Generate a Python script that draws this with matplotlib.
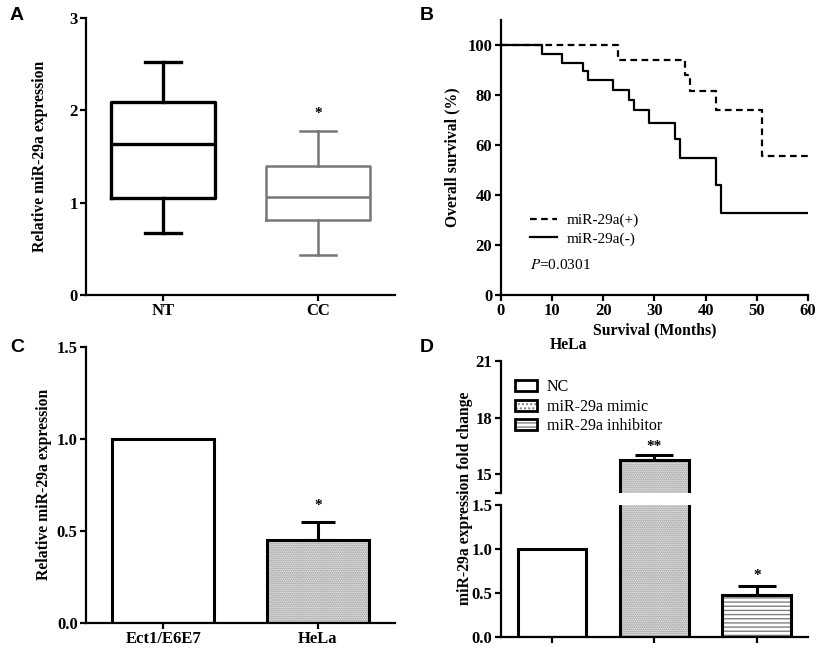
import matplotlib
matplotlib.use("Agg")
import matplotlib.pyplot as plt
from matplotlib.patches import Patch
from matplotlib.legend_handler import HandlerTuple

plt.rcParams['font.family'] = 'Liberation Serif'
plt.rcParams['mathtext.fontset'] = 'stix'

# panel A - box stats
box_names = ["NT", "CC"]
box_whislo = [0.67, 0.43]
box_q1 = [1.05, 0.81]
box_med = [1.63, 1.06]
box_q3 = [2.09, 1.40]
box_whishi = [2.52, 1.78]

# panel B - survival steps
t_pos = [0, 23, 36, 37, 42, 51, 60]
s_pos = [100, 94, 88, 81.5, 74, 55.5, 55.5]
t_neg = [0, 8, 12, 16, 17, 22, 25, 26, 29, 34, 35, 42, 43, 60]
s_neg = [100, 96.5, 93, 89.5, 86, 82, 78, 74, 69, 62.5, 55, 44, 33, 33]

# panel C
c_names = ["Ect1/E6E7", "HeLa"]
c_vals = [1.0, 0.45]
c_err = [0, 0.10]

# panel D
d_names = ["NC", "miR-29a mimic", "miR-29a inhibitor"]
d_vals = [1.0, 15.75, 0.48]
d_err = [0, 0.30, 0.10]

W, H = 819, 648
fig = plt.figure(figsize=(W / 100, H / 100), dpi=100)
TICK = 12
LAB = 11.3
HATCH_C = '#808080'


def px(l, t, r, b):
    return [l / W, 1 - b / H, (r - l) / W, (b - t) / H]


def style(ax):
    for s in ['top', 'right']:
        ax.spines[s].set_visible(False)
    for s in ['left', 'bottom']:
        ax.spines[s].set_linewidth(1.6)
    ax.tick_params(direction='out', width=1.6, length=4, labelsize=TICK, pad=2)
    for lab in ax.get_xticklabels() + ax.get_yticklabels():
        lab.set_fontweight('bold')


def hbar(ax, x, h, hatch, w=0.67):
    if hatch:
        ax.bar(x, h, w, color='white', edgecolor=HATCH_C, hatch=hatch, linewidth=0, zorder=2)
    ax.bar(x, h, w, fill=False, edgecolor='black', linewidth=2.2, zorder=3)


# ---- A ----
axA = fig.add_axes(px(86, 18, 395, 295))
cols = ['black', '#777777']
lws = [2.4, 1.8]
for i in range(2):
    st = dict(label=box_names[i], whislo=box_whislo[i], q1=box_q1[i], med=box_med[i],
              q3=box_q3[i], whishi=box_whishi[i], fliers=[])
    c = cols[i]
    axA.bxp([st], positions=[i + 1], widths=0.67, capwidths=0.23, showfliers=False,
            boxprops=dict(color=c, linewidth=lws[i]),
            medianprops=dict(color=c, linewidth=lws[i]),
            whiskerprops=dict(color=c, linewidth=lws[i]),
            capprops=dict(color=c, linewidth=lws[i]))
axA.set_xlim(0.5, 2.5)
axA.set_ylim(0, 3)
axA.set_yticks([0, 1, 2, 3])
axA.set_xticks([1, 2])
axA.set_xticklabels(box_names)
axA.set_ylabel("Relative miR-29a expression", fontsize=LAB, fontweight='bold', labelpad=15)
axA.text(2, box_whishi[1] + 0.12, "*", ha='center', va='bottom', fontsize=11, fontweight='bold')
style(axA)

# ---- B ----
axB = fig.add_axes(px(500.7, 20, 808, 295))
axB.step(t_pos, s_pos, where='post', color='black', linewidth=1.6, linestyle=(0, (3, 2)),
         label="miR-29a(+)")
axB.step(t_neg, s_neg, where='post', color='black', linewidth=1.6, label="miR-29a(-)")
axB.set_xlim(0, 60)
axB.set_ylim(0, 110)
axB.set_xticks(range(0, 61, 10))
axB.set_yticks(range(0, 101, 20))
axB.set_xlabel("Survival (Months)", fontsize=LAB, fontweight='bold', labelpad=2)
axB.set_ylabel("Overall survival (%)", fontsize=LAB, fontweight='bold', labelpad=5)
axB.legend(loc='lower left', bbox_to_anchor=(0.05, 0.13), frameon=False, fontsize=11,
           handlelength=1.8, handletextpad=0.6, labelspacing=0.3)
axB.text(0.095, 0.11, "$P$=0.0301", transform=axB.transAxes, fontsize=11, va='center')
style(axB)

# ---- C ----
axC = fig.add_axes(px(86, 346.7, 395, 623))
hbar(axC, 1, c_vals[0], None, w=0.66)
hbar(axC, 2, c_vals[1], '........', w=0.66)
axC.errorbar([2], [c_vals[1]], yerr=[[0], [c_err[1]]], fmt='none', ecolor='black',
             elinewidth=2.2, capsize=12, capthick=2.2, zorder=4)
axC.text(2, c_vals[1] + c_err[1] + 0.05, "*", ha='center', va='bottom', fontsize=11, fontweight='bold')
axC.set_xlim(0.5, 2.5)
axC.set_ylim(0, 1.5)
axC.set_yticks([0, 0.5, 1.0, 1.5])
axC.set_yticklabels(['0.0', '0.5', '1.0', '1.5'])
axC.set_xticks([1, 2])
axC.set_xticklabels(c_names)
axC.set_ylabel("Relative miR-29a expression", fontsize=LAB, fontweight='bold', labelpad=3)
style(axC)

# ---- D (broken axis) ----
axDu = fig.add_axes(px(500.7, 361, 808, 493.3))
axDl = fig.add_axes(px(500.7, 505, 808, 636.7))
hatches = [None, '........', '----']
xs = [1, 2, 3]
for ax in (axDu, axDl):
    for i in range(3):
        hbar(ax, xs[i], d_vals[i], hatches[i])
    ax.errorbar(xs[1:], d_vals[1:], yerr=[[0, 0], d_err[1:]], fmt='none', ecolor='black',
                elinewidth=2.2, capsize=14, capthick=2.2, zorder=4)
    ax.set_xlim(0.5, 3.5)
axDl.text(3, d_vals[2] + d_err[2] + 0.04, "*", ha='center', va='bottom', fontsize=11, fontweight='bold')
axDu.text(2, d_vals[1] + d_err[1] + 0.1, "**", ha='center', va='bottom', fontsize=11, fontweight='bold')

axDu.set_ylim(14, 21)
axDu.set_yticks([14, 15, 18, 21])
axDu.set_yticklabels(['', '15', '18', '21'])
axDu.set_xticks([])
axDu.spines['bottom'].set_visible(False)
axDl.set_ylim(0, 1.5)
axDl.set_yticks([0, 0.5, 1.0, 1.5])
axDl.set_yticklabels(['0.0', '0.5', '1.0', '1.5'])
axDl.set_xticks(xs)
axDl.set_xticklabels(['', '', ''])
style(axDu)
style(axDl)
axDu.text(0.222, 1.12, "HeLa", transform=axDu.transAxes, ha='center', va='center',
          fontsize=LAB, fontweight='bold')
fig.text(465 / W, 1 - 498 / H, "miR-29a expression fold change", rotation=90, ha='center',
         va='center', fontsize=LAB, fontweight='bold')

handles = []
for i in range(3):
    outline = Patch(facecolor='none', edgecolor='black', linewidth=2.0)
    if hatches[i]:
        fillp = Patch(facecolor='white', edgecolor=HATCH_C, hatch=hatches[i][:4], linewidth=0)
        handles.append((fillp, outline))
    else:
        handles.append(outline)
axDu.legend(handles, d_names, loc='upper left', bbox_to_anchor=(0.0, 0.97), frameon=False,
            fontsize=11.5, handlelength=1.4, handleheight=0.7, handletextpad=0.6,
            labelspacing=0.22, handler_map={tuple: HandlerTuple(ndivide=1, pad=0)})

# panel letters
for lab, x, y in [("A", 10, 15), ("B", 420, 15), ("C", 10, 347), ("D", 420, 347)]:
    fig.text(x / W, 1 - y / H, lab, family='Liberation Sans', fontweight='bold', fontsize=14,
             va='center', ha='left')

fig.savefig("out.png", dpi=100)
